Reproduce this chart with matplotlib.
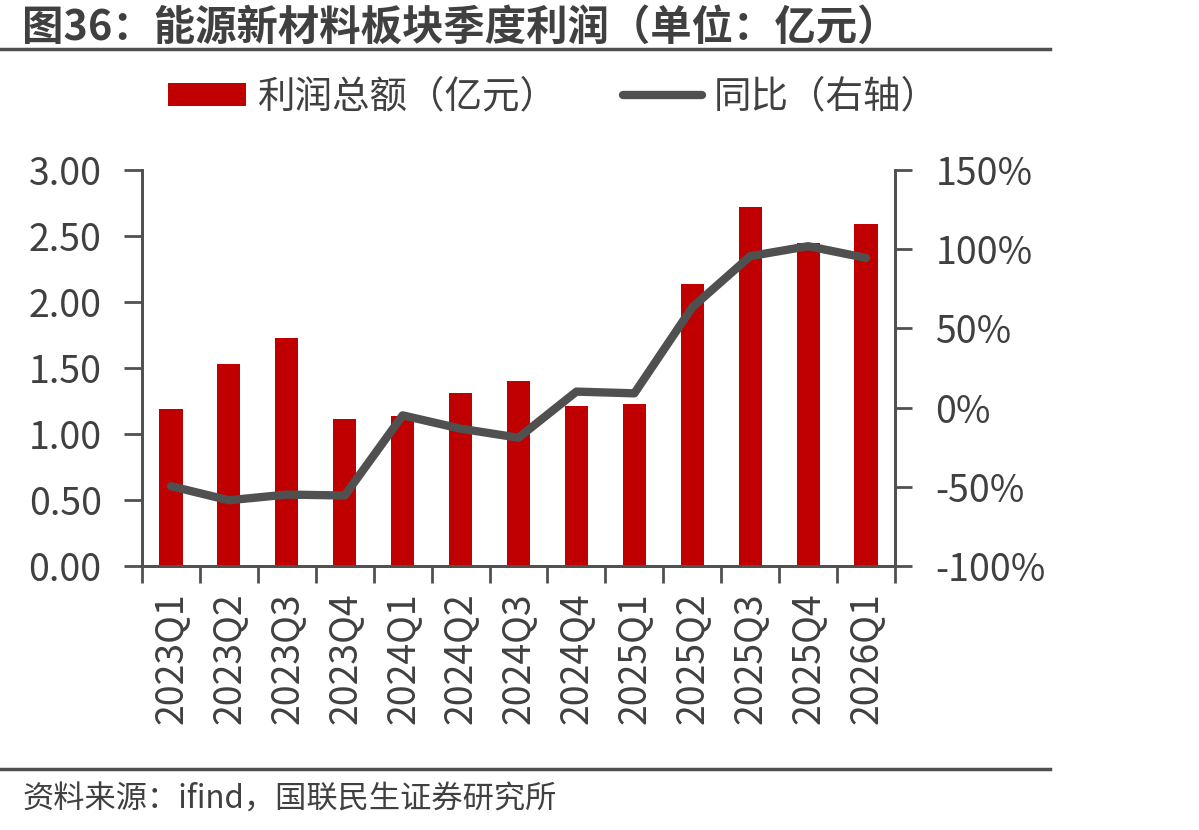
import matplotlib
matplotlib.use("Agg")
import matplotlib.pyplot as plt
from matplotlib.lines import Line2D
from matplotlib.patches import Patch
from matplotlib.ticker import FixedLocator, FuncFormatter

plt.rcParams['font.family'] = ['Noto Sans CJK SC', 'DejaVu Sans']
plt.rcParams['axes.unicode_minus'] = False

# data
quarters = ['2023Q1', '2023Q2', '2023Q3', '2023Q4',
            '2024Q1', '2024Q2', '2024Q3', '2024Q4',
            '2025Q1', '2025Q2', '2025Q3', '2025Q4', '2026Q1']
profit = [1.19, 1.53, 1.73, 1.11, 1.14, 1.31, 1.40, 1.21, 1.23, 2.14, 2.72, 2.45, 2.59]
yoy = [-49.6, -58.5, -54.9, -55.5, -4.9, -13.3, -19.0, 10.1, 9.0, 63.3, 95.6, 101.9, 94.5]

red = '#C00000'
gray = '#505050'
txt = '#404040'

fig = plt.figure(figsize=(11.99, 8.30), dpi=100)
ax = fig.add_axes([142/1199, 1-566/830, (895-142)/1199, (566-170)/830])
ax2 = ax.twinx()

x = list(range(len(quarters)))
ax.bar(x, profit, width=0.4, color=red, zorder=2)
ax2.plot(x, yoy, color=gray, lw=6, solid_capstyle='round', solid_joinstyle='round', zorder=3)

ax.set_xlim(-0.5, len(quarters) - 0.5)
ax.set_ylim(0, 3)
ax.set_yticks([0, 0.5, 1.0, 1.5, 2.0, 2.5, 3.0])
ax.yaxis.set_major_formatter(FuncFormatter(lambda v, p: f'{v:.2f}'))
ax2.set_ylim(-100, 150)
ax2.set_yticks([-100, -50, 0, 50, 100, 150])
ax2.yaxis.set_major_formatter(FuncFormatter(lambda v, p: f'{v:.0f}%'))

ax.set_xticks(x)
ax.set_xticklabels(quarters, rotation=90)
ax.xaxis.set_minor_locator(FixedLocator([i - 0.5 for i in range(len(quarters) + 1)]))
ax.tick_params(axis='x', which='major', length=0, pad=19, labelsize=27, labelcolor=txt)
ax.tick_params(axis='x', which='minor', length=12, width=2, color=gray, direction='out')
ax.tick_params(axis='y', length=13, width=2, color=gray, direction='out', pad=16,
               labelsize=27, labelcolor=txt)
ax2.tick_params(axis='y', length=12, width=2, color=gray, direction='out', pad=17,
                labelsize=27, labelcolor=txt)

for a in (ax, ax2):
    a.spines['top'].set_visible(False)
    for s in ('left', 'right', 'bottom'):
        a.spines[s].set_color(gray)
        a.spines[s].set_linewidth(2)

# title, rules and source
fig.text(22/1199, 1-28/830, '图36：能源新材料板块季度利润（单位：亿元）', fontsize=29.8,
         fontweight='bold', color=txt, va='center', ha='left')
fig.add_artist(Line2D([0, 1050/1199], [1-49/830, 1-49/830], color=gray, lw=2.5))
fig.add_artist(Line2D([0, 1050/1199], [1-769/830, 1-769/830], color=gray, lw=2.5))
fig.text(22/1199, 1-800/830, '资料来源：ifind，国联民生证券研究所', fontsize=22.5,
         color=txt, va='center', ha='left')

handles = [Patch(facecolor=red, edgecolor='none'),
           Line2D([], [], color=gray, lw=6, solid_capstyle='round')]
fig.legend(handles, ['利润总额（亿元）', '同比（右轴）'], ncol=2, frameon=False,
           loc='center', bbox_to_anchor=(553/1199, 1-97/830), fontsize=27,
           handlelength=2.1, handleheight=0.55, handletextpad=0.3, columnspacing=1.75,
           labelcolor=txt)

fig.savefig('out.png', dpi=100)
